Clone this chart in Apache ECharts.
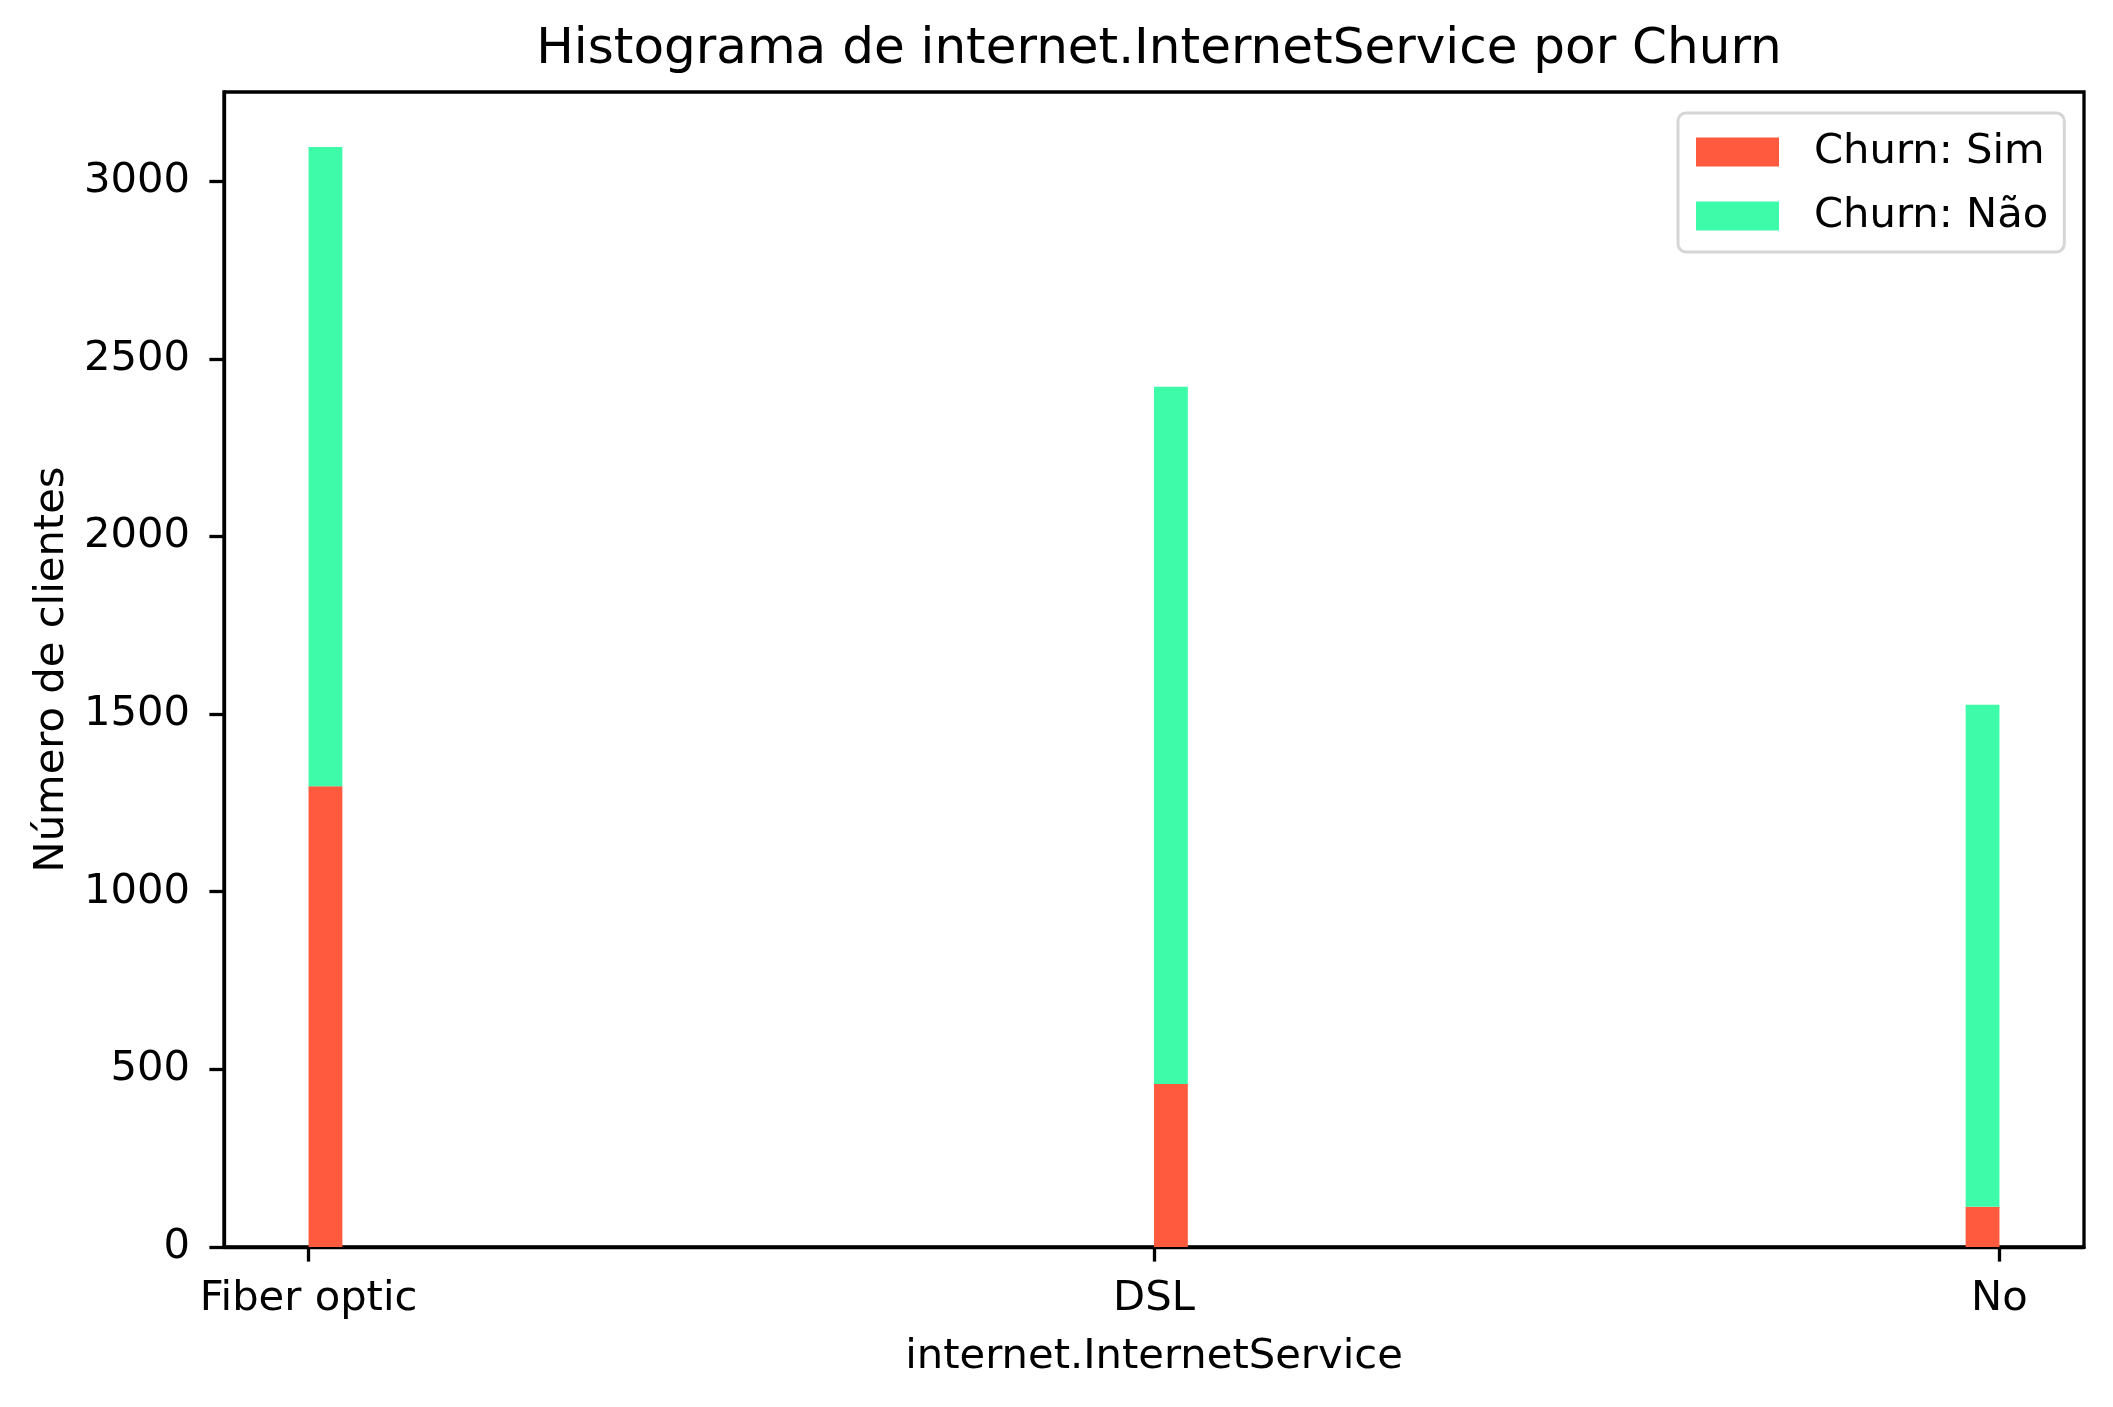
<!DOCTYPE html>
<html>
<head>
<meta charset="utf-8">
<script src="https://cdn.jsdelivr.net/npm/echarts@6/dist/echarts.min.js"></script>
<style>
  html, body { margin: 0; padding: 0; background: #fff; }
  #main { width: 2113px; height: 1407px; }
</style>
</head>
<body>
<div id="main"></div>
<script>
// categories on the x axis (positions 0, 1, 2)
const categories = ['Fiber optic', 'DSL', 'No'];
// customer counts per category
const churnSim = [1297, 459, 113];
const churnNao = [1799, 1962, 1413];
// y ticks
const yTicks = [0, 500, 1000, 1500, 2000, 2500, 3000];
const xTicks = [0, 1, 2];

const nBins = 50;
const binWidth = 2 / nBins;
const FONT = 'DejaVu Sans';
const colorSim = '#FF5A3D';
const colorNao = '#3EFBA9';

// histogram bin holding category index i (last bin is closed on the right)
function binStart(i) {
  const b = Math.min(Math.floor(i / binWidth + 1e-9), nBins - 1);
  return b * binWidth;
}

// stacked histogram bins: [x0, x1, yBottom, yTop]
const simData = categories.map((c, i) => [binStart(i), binStart(i) + binWidth, 0, churnSim[i]]);
const naoData = categories.map((c, i) => [binStart(i), binStart(i) + binWidth, churnSim[i], churnSim[i] + churnNao[i]]);

function renderBin(params, api) {
  const p0 = api.coord([api.value(0), api.value(3)]);
  const p1 = api.coord([api.value(1), api.value(2)]);
  return {
    type: 'rect',
    shape: { x: p0[0], y: p0[1], width: p1[0] - p0[0], height: p1[1] - p0[1] },
    style: { fill: api.visual('color') }
  };
}

const chart = echarts.init(document.getElementById('main'), null, { renderer: 'canvas' });

const option = {
  animation: false,
  backgroundColor: '#fff',
  textStyle: { fontFamily: FONT },
  title: {
    text: 'Histograma de internet.InternetService por Churn',
    left: 1154,
    top: 20,
    textAlign: 'center',
    textStyle: { fontFamily: FONT, fontSize: 50, fontWeight: 'normal', color: '#000' }
  },
  legend: {
    orient: 'vertical',
    left: 1678,
    top: 113,
    padding: [18, 16, 15, 18],
    itemWidth: 83,
    itemHeight: 29,
    itemGap: 22,
    borderColor: '#d6d6d6',
    borderWidth: 3,
    borderRadius: 8,
    backgroundColor: '#fff',
    textStyle: { fontFamily: FONT, fontSize: 41.7, color: '#000', padding: [0, 0, 0, 30] },
    data: [
      { name: 'Churn: Sim', icon: 'rect' },
      { name: 'Churn: Não', icon: 'rect' }
    ]
  },
  grid: {
    left: 224,
    right: 29,
    top: 92,
    bottom: 160,
    show: true,
    borderColor: '#000',
    borderWidth: 3.3
  },
  xAxis: {
    type: 'value',
    min: -0.1,
    max: 2.1,
    name: 'internet.InternetService',
    nameLocation: 'middle',
    nameGap: 89,
    nameTextStyle: { fontFamily: FONT, fontSize: 41.7, color: '#000' },
    axisLine: { show: true, onZero: false, lineStyle: { color: '#000', width: 3.3 } },
    axisTick: { show: true, customValues: xTicks, length: 14.6, lineStyle: { color: '#000', width: 3.3 } },
    axisLabel: {
      customValues: xTicks,
      margin: 31,
      fontFamily: FONT,
      fontSize: 41.7,
      color: '#000',
      formatter: v => categories[Math.round(v)]
    },
    splitLine: { show: false }
  },
  yAxis: {
    type: 'value',
    min: 0,
    max: 3250.8,
    name: 'Número de clientes',
    nameLocation: 'middle',
    nameGap: 141,
    nameTextStyle: { fontFamily: FONT, fontSize: 41.7, color: '#000' },
    axisLine: { show: true, onZero: false, lineStyle: { color: '#000', width: 3.3 } },
    axisTick: { show: true, customValues: yTicks, length: 14.6, lineStyle: { color: '#000', width: 3.3 } },
    axisLabel: {
      customValues: yTicks,
      margin: 34,
      fontFamily: FONT,
      fontSize: 41.7,
      color: '#000',
      formatter: v => String(v)
    },
    splitLine: { show: false }
  },
  series: [
    {
      name: 'Churn: Sim',
      type: 'custom',
      color: colorSim,
      itemStyle: { color: colorSim },
      encode: { x: [0, 1], y: [2, 3] },
      renderItem: renderBin,
      data: simData
    },
    {
      name: 'Churn: Não',
      type: 'custom',
      color: colorNao,
      itemStyle: { color: colorNao },
      encode: { x: [0, 1], y: [2, 3] },
      renderItem: renderBin,
      data: naoData
    }
  ]
};

chart.setOption(option);
</script>
</body>
</html>
